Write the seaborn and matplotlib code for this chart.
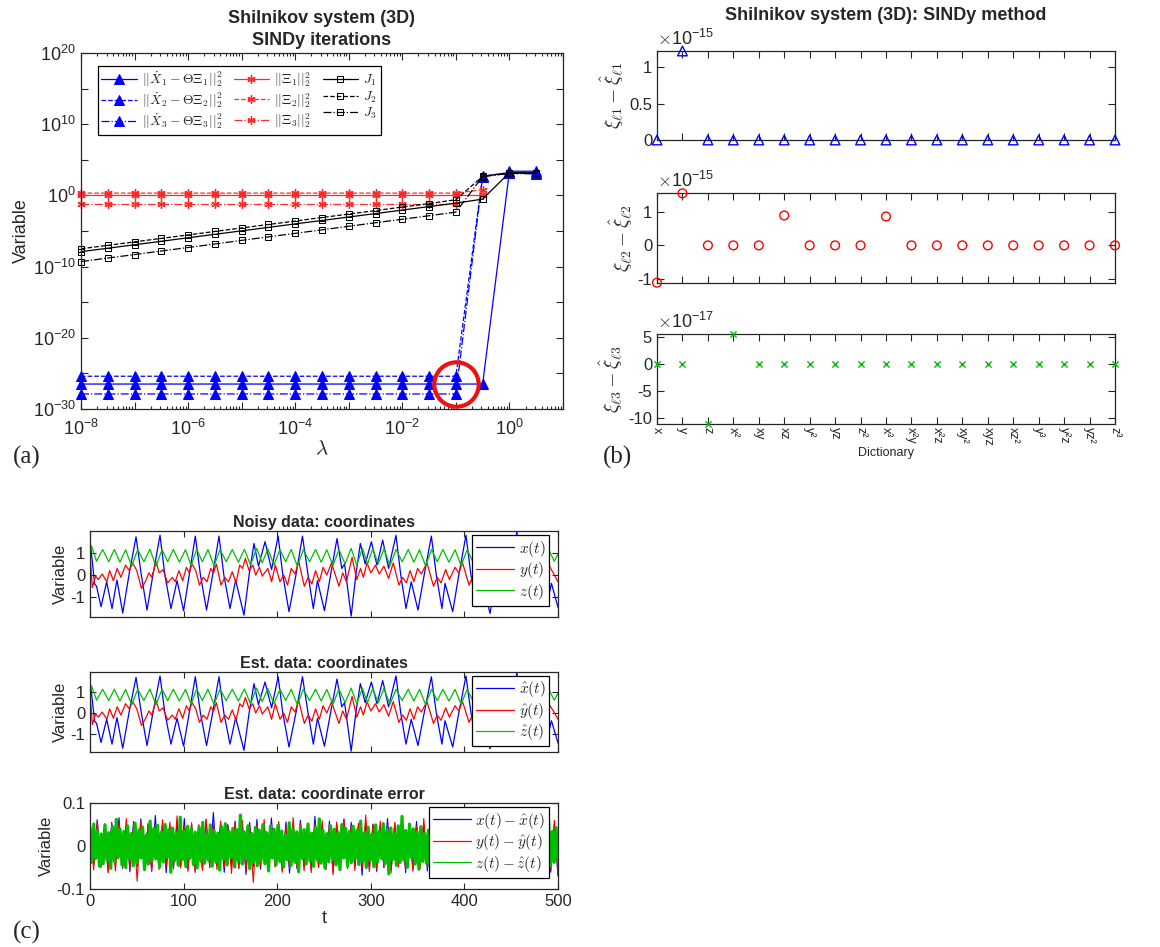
import numpy as np
import matplotlib
matplotlib.use("Agg")
import matplotlib.pyplot as plt
import seaborn as sns
from matplotlib.ticker import FixedLocator, FuncFormatter, NullLocator, LogLocator, NullFormatter

# ------------------------------------------------------------------ data
# (a) SINDy iterations versus lambda
lam = [1e-8, 3.16e-8, 1e-7, 3.16e-7, 1e-6, 3.16e-6, 1e-5, 3.16e-5, 1e-4,
       3.16e-4, 1e-3, 3.16e-3, 1e-2, 3.16e-2, 1e-1, 3.16e-1, 1e0, 3.16e0]
res1 = [3.2e-27, 3.2e-27, 3.2e-27, 3.2e-27, 3.2e-27, 3.2e-27, 3.2e-27, 3.2e-27, 3.2e-27,
        3.2e-27, 3.2e-27, 3.2e-27, 3.2e-27, 3.2e-27, 3.2e-27, 3.2e-27, 2.5e3, 2.5e3]
res2 = [4e-26, 4e-26, 4e-26, 4e-26, 4e-26, 4e-26, 4e-26, 4e-26, 4e-26,
        4e-26, 4e-26, 4e-26, 4e-26, 4e-26, 4e-26, 5e2, 1.6e3, 1.4e3]
res3 = [1.3e-28, 1.3e-28, 1.3e-28, 1.3e-28, 1.3e-28, 1.3e-28, 1.3e-28, 1.3e-28, 1.3e-28,
        1.3e-28, 1.3e-28, 1.3e-28, 1.3e-28, 1.3e-28, 1.3e-28, 4.5e2, 1.25e3, 1.1e3]
xi1 = [1.0, 1.0, 1.0, 1.0, 1.0, 1.0, 1.0, 1.0, 1.0, 1.0, 1.0, 1.0, 1.0, 1.0, 1.0, 1.0]
xi2 = [2.1, 2.1, 2.1, 2.1, 2.1, 2.1, 2.1, 2.1, 2.1, 2.1, 2.1, 2.1, 2.1, 2.1, 2.1, 6.3]
xi3 = [0.054, 0.054, 0.054, 0.054, 0.054, 0.054, 0.054, 0.054, 0.054, 0.054, 0.054,
       0.054, 0.054, 0.054, 0.054]
J1 = [1.26e-8, 3.8e-8, 1.17e-7, 3.6e-7, 1.12e-6, 3.4e-6, 1.05e-5, 3.2e-5, 1.0e-4,
      3.0e-4, 9.3e-4, 2.8e-3, 8.7e-3, 2.7e-2, 8.3e-2, 0.30, 1.6e3, 1.4e3]
J2 = [3.2e-8, 9.6e-8, 3.0e-7, 9.2e-7, 2.8e-6, 8.7e-6, 2.7e-5, 8.2e-5, 2.5e-4,
      7.8e-4, 2.4e-3, 7.4e-3, 2.3e-2, 7.0e-2, 0.25, 4.8e2, 1.6e3, 1.4e3]
J3 = [5.0e-10, 1.6e-9, 4.9e-9, 1.55e-8, 4.8e-8, 1.5e-7, 4.8e-7, 1.5e-6, 4.7e-6,
      1.45e-5, 4.6e-5, 1.45e-4, 4.5e-4, 1.4e-3, 4.5e-3, 4.5e2, 1.25e3, 1.1e3]

# (b) coefficient differences over the dictionary
terms = ['x', 'y', 'z', 'x²', 'xy', 'xz', 'y²', 'yz', 'z²', 'x³', 'x²y', 'x²z',
         'xy²', 'xyz', 'xz²', 'y³', 'y²z', 'yz²', 'z³']
dxi1 = [0, 1.22e-15, 0, 0, 0, 0, 0, 0, 0, 0, 0, 0, 0, 0, 0, 0, 0, 0, 0]
dxi2 = [-1.11e-15, 1.55e-15, 0, 0, 0, 0.89e-15, 0, 0, 0, 0.86e-15, 0, 0, 0, 0, 0, 0, 0, 0, 0]
dxi3 = [0, 0, -1.11e-16, 5.55e-17, 0, 0, 0, 0, 0, 0, 0, 0, 0, 0, 0, 0, 0, 0, 0]

# (c) time series (vertices)
x_t = [0, 2.5, 5, 7, 11.8, 17.8, 23.5, 28.8, 35, 42, 49.2, 54.5, 60.9, 67, 74.8, 80,
       86.5, 93, 100, 106, 112.5, 118, 124.5, 131, 137.8, 143, 149.6, 155.6, 164.5, 170,
       175.2, 180, 187, 194, 201, 206, 212.6, 220, 227, 233, 238.6, 243, 250.5, 257,
       263.9, 269, 272, 279, 284, 288.8, 294, 300.6, 306.6, 312.7, 319, 326.9, 332,
       337.6, 343.2, 350.4, 357, 364.7, 370, 376, 379.3, 387.5, 394, 401.7, 407, 413,
       419, 427.4, 434, 440, 446, 451, 456, 461, 466, 471, 477, 483, 488, 493, 500]
x_v = [1.55, 0.6, -0.4, -0.5, -1.42, -0.3, -1.5, -0.22, -1.7, 0.1, 1.72, 0.1, -1.57, -0.05,
       1.79, 0.0, -1.5, -0.25, -1.6, 0.0, 1.75, 0.0, -1.57, 0.0, 1.75, 0.0, -1.5, -0.22,
       -1.8, 0.0, 1.42, 0.4, 1.5, 0.25, 1.75, 0.0, -1.64, 0.0, 1.75, 0.0, -1.5, -0.25,
       -1.6, 0.0, 1.64, 0.3, 0.5, -1.84, 0.0, 1.42, 0.5, 1.5, 0.45, 1.57, 0.3, 1.79, 0.0,
       -1.5, -0.3, -1.57, 0.0, 1.75, 0.0, -1.5, -0.37, -1.64, 0.0, 1.79, 0.0, -1.42,
       -0.3, -1.72, 0.0, 1.5, 0.0, -0.6, 1.98, 0.0, -1.3, -0.4, -1.3, -0.4, -1.35, -0.37, -1.45]
y_t = [0, 2.5, 6, 9, 13, 18, 21, 25, 29, 33, 38, 42, 45.5, 50, 55, 59, 63, 66, 70.5, 74,
       78, 83, 88, 91, 95, 99, 103, 106, 109, 113, 117, 121, 125, 129, 132, 135, 140, 144,
       148, 152, 156, 160, 163, 166, 170, 174, 177, 181, 184, 190, 194, 198, 203, 207, 211,
       215, 219, 223, 229, 233, 237, 241, 245, 249, 253, 258, 266, 270, 274, 280, 285, 289,
       292, 296, 300, 305, 309, 314, 319, 324, 330, 334, 338, 342, 346, 350, 354, 360, 367,
       371, 375, 380, 384, 390, 394, 398, 405, 409, 413, 418, 422, 428, 432, 437, 443, 448,
       453, 459, 463, 467, 472, 476, 481, 485, 490, 495, 500]
y_v = [0.95, -0.55, -0.05, -0.2, 0.05, -0.3, 0.2, -0.25, 0.3, -0.1, 0.45, 0.2, 0.55, 0.2,
       -0.6, -0.3, 0.1, -0.1, 0.6, 0.1, 0.25, -0.35, -0.1, -0.3, 0.2, -0.25, 0.35, 0.1, 0.5,
       0.2, -0.45, -0.1, -0.3, 0.3, 0.1, 0.5, -0.45, -0.1, -0.3, 0.15, -0.35, 0.45, 0.3, 0.75,
       0.2, 0.45, 0.0, 0.35, -0.05, 0.3, -0.3, 0.45, -0.3, 0.0, -0.45, 0.3, 0.05, 0.6, -0.5,
       -0.1, -0.4, 0.2, -0.3, 0.35, 0.0, 0.55, -0.5, 0.1, -0.3, 0.8, -0.2, 0.3, -0.1, 0.55,
       0.1, 0.45, 0.05, 0.4, -0.15, 0.55, -0.45, -0.1, -0.35, 0.2, -0.3, 0.3, 0.05, 0.55,
       -0.5, -0.1, -0.35, 0.25, -0.2, 0.35, 0.1, 0.55, -0.45, -0.05, -0.35, 0.3, -0.2, 0.45,
       0.1, 0.6, -0.4, 0.1, 0.5, -0.4, 0.0, -0.3, 0.3, -0.25, 0.4, -0.1, 0.45, 0.1, -0.3]
z_t = [0, 1.5, 7, 13.5, 20, 26, 32, 38, 44.5, 51, 57.5, 64, 70.5, 77, 83, 89, 95.5, 102,
       108, 114, 120, 126, 132.5, 139, 145.5, 152, 158.5, 165, 171.5, 178, 184, 190, 196.5,
       203, 209, 215, 221.5, 228, 234.5, 241, 247, 253, 259.5, 266, 272.5, 279, 285, 291,
       296.5, 302, 308, 314, 320.5, 327, 333.5, 340, 346, 352, 358.5, 365, 371, 377, 383.5,
       390, 396.5, 403, 409, 415, 421.5, 428, 434, 440, 446, 452, 458.5, 465, 471, 477,
       483.5, 490, 496, 500]
z_v = [1.22, 1.32, 0.62, 1.15, 0.6, 1.15, 0.58, 1.14, 0.4, 1.15, 0.6, 1.16, 0.4, 1.15, 0.6,
       1.15, 0.58, 1.14, 0.42, 1.16, 0.6, 1.15, 0.42, 1.15, 0.6, 1.15, 0.58, 1.16, 0.45, 1.2,
       0.55, 1.18, 0.45, 1.15, 0.6, 1.15, 0.4, 1.15, 0.6, 1.15, 0.58, 1.14, 0.42, 1.15, 0.5,
       1.2, 0.45, 1.2, 0.5, 1.18, 0.5, 1.18, 0.42, 1.15, 0.6, 1.15, 0.58, 1.14, 0.42, 1.15,
       0.6, 1.15, 0.58, 1.14, 0.42, 1.15, 0.6, 1.15, 0.58, 1.14, 0.45, 1.18, 0.5, 1.15, 0.42,
       1.15, 0.6, 1.15, 0.6, 1.15, 0.62, 0.95]
# estimated series (visually identical to the noisy ones)
xh_v, yh_v, zh_v = x_v, y_v, z_v

# coordinate error samples
err_x = [.052, -.044, .061, -.05, .047, -.058, .055, -.046, .066, -.052,
         .049, -.06, .057, -.048, .063, -.054, .05, -.057, .071, -.049,
         .054, -.062, .048, -.051, .059, -.047, .064, -.055, .051, -.059,
         .046, -.053, .06, -.05, .078, -.045, .053, -.061, .05, -.048,
         .058, -.052, .047, -.066, .055, -.049, .062, -.054, .049, -.05,
         .065, -.047, .051, -.058, .056, -.063, .048, -.052, .06, -.046,
         .053, -.057, .069, -.05, .047, -.055, .058, -.061, .05, -.048,
         .062, -.052, .055, -.047, .049, -.068, .057, -.053, .051, -.059,
         .046, -.05, .064, -.056, .053, -.049, .06, -.062, .048, -.054,
         .057, -.046, .05, -.058, .073, -.051, .054, -.057, .049, -.063,
         .059, -.048, .052, -.055, .047, -.06, .063, -.05, .056, -.053,
         .05, -.066, .048, -.052, .061, -.047, .055, -.059, .052, -.05,
         .058, -.054, .049, -.057, .066, -.049, .053, -.061, .05, -.07]
err_y = [.048, -.056, .059, -.047, .052, -.063, .05, -.058, .055, -.049,
         .064, -.052, .047, -.082, .057, -.05, .053, -.06, .049, -.055,
         .061, -.048, .056, -.053, .07, -.051, .048, -.059, .054, -.062,
         .05, -.057, .063, -.049, .052, -.055, .058, -.05, .047, -.064,
         .055, -.052, .06, -.058, .049, -.085, .053, -.047, .062, -.056,
         .051, -.049, .057, -.061, .048, -.053, .066, -.05, .054, -.058,
         .049, -.062, .052, -.048, .059, -.055, .05, -.067, .056, -.051,
         .063, -.049, .048, -.057, .053, -.052, .072, -.06, .05, -.054,
         .058, -.05, .049, -.063, .055, -.048, .061, -.056, .052, -.059,
         .047, -.053, .064, -.05, .057, -.066, .051, -.049, .06, -.055,
         .054, -.061, .05, -.052, .065, -.048, .056, -.058, .049, -.062,
         .059, -.05, .053, -.057, .048, -.069, .055, -.051, .062, -.053,
         .05, -.059, .057, -.048, .052, -.064, .049, -.056, .06, -.068]
err_z = [.043, -.038, .051, -.029, .036, -.047, .028, -.041, .049, -.033,
         .031, -.052, .045, -.036, .062, -.027, .039, -.044, .034, -.05,
         .047, -.031, .029, -.046, .053, -.039, .037, -.028, .044, -.055,
         .026, -.042, .058, -.035, .041, -.03, .048, -.049, .033, -.037,
         .05, -.026, .038, -.061, .042, -.034, .03, -.045, .067, -.032,
         .035, -.048, .046, -.029, .04, -.043, .032, -.051, .044, -.036,
         .055, -.04, .027, -.033, .049, -.047, .036, -.038, .03, -.056,
         .045, -.031, .052, -.044, .034, -.027, .041, -.049, .038, -.035,
         .072, -.042, .033, -.03, .047, -.053, .029, -.039, .043, -.046,
         .037, -.034, .05, -.041, .031, -.058, .046, -.028, .039, -.044,
         .048, -.036, .035, -.049, .027, -.032, .054, -.045, .04, -.038,
         .033, -.06, .045, -.029, .038, -.042, .051, -.035, .03, -.047,
         .043, -.033, .063, -.04, .036, -.051, .029, -.037, .047, -.031,
         .039, -.044, .032, -.055, .05, -.028, .041, -.046, .034, -.039,
         .046, -.03, .037, -.043, .058, -.036, .031, -.05, .044, -.034,
         .028, -.048, .049, -.037, .035, -.029, .052, -.041, .038, -.065,
         .042, -.032, .03, -.045, .047, -.038, .069, -.033, .036, -.049,
         .051, -.027, .04, -.042, .033, -.054, .045, -.036, .029, -.04,
         .037, -.047, .055, -.031, .043, -.039, .032, -.044, .048, -.035,
         .034, -.052, .041, -.03, .05, -.037, .027, -.046, .044, -.041,
         .039, -.033, .046, -.05, .031, -.038, .053, -.029, .042, -.045,
         .036, -.04, .029, -.057, .048, -.034, .038, -.043, .061, -.036,
         .044, -.031, .035, -.048, .03, -.042, .05, -.037, .041, -.053,
         .033, -.046, .047, -.028, .037, -.039, .045, -.05, .032, -.035,
         .049, -.041, .04, -.032, .056, -.047, .034, -.038, .043, -.036]

# ------------------------------------------------------------------ style
sns.set_style("ticks")
plt.rcParams["font.family"] = ["Liberation Sans", "DejaVu Sans"]
plt.rcParams["mathtext.fontset"] = "cm"
plt.rcParams["axes.unicode_minus"] = False
plt.rcParams["xtick.direction"] = "in"
plt.rcParams["ytick.direction"] = "in"
plt.rcParams["axes.edgecolor"] = "#262626"
plt.rcParams["axes.linewidth"] = 0.9
plt.rcParams["xtick.color"] = "#262626"
plt.rcParams["ytick.color"] = "#262626"
plt.rcParams["axes.labelcolor"] = "#262626"

W, H = 1160, 947
fig = plt.figure(figsize=(W / 100, H / 100), dpi=100)


def ax_px(l, t, r, b):
    return fig.add_axes([l / W, 1 - b / H, (r - l) / W, (b - t) / H])


def box_ticks(ax, length=5):
    ax.tick_params(which="both", top=True, right=True, direction="in",
                   labelsize=12, width=0.8)
    ax.tick_params(which="major", length=length)
    ax.tick_params(which="minor", length=length * 0.5)
    for s in ax.spines.values():
        s.set_visible(True)
        s.set_linewidth(0.9)


def fixed_fmt(mapping):
    return FuncFormatter(lambda v, p: mapping.get(round(v, 3), ""))


BLUE, RED, BLACK, GREEN = "#0000ff", "#ff2a2a", "black", "#00c000"

# ------------------------------------------------------------------ (a)
axA = ax_px(81, 53, 563, 409)
axA.set_xscale("log")
axA.set_yscale("log")
series_a = [
    (res1, BLUE, "-", "^", dict(mfc=BLUE, ms=6.5), r"$||\dot{X}_1-\Theta\Xi_1||_2^2$"),
    (res2, BLUE, "--", "^", dict(mfc=BLUE, ms=6.5), r"$||\dot{X}_2-\Theta\Xi_2||_2^2$"),
    (res3, BLUE, "-.", "^", dict(mfc=BLUE, ms=6.5), r"$||\dot{X}_3-\Theta\Xi_3||_2^2$"),
    (xi1, RED, "-", (6, 2, 0), dict(ms=6, mew=1.0), r"$||\Xi_1||_2^2$"),
    (xi2, RED, "--", (6, 2, 0), dict(ms=6, mew=1.0), r"$||\Xi_2||_2^2$"),
    (xi3, RED, "-.", (6, 2, 0), dict(ms=6, mew=1.0), r"$||\Xi_3||_2^2$"),
    (J1, BLACK, "-", "s", dict(mfc="none", ms=4.5), r"$J_1$"),
    (J2, BLACK, "--", "s", dict(mfc="none", ms=4.5), r"$J_2$"),
    (J3, BLACK, "-.", "s", dict(mfc="none", ms=4.5), r"$J_3$"),
]
handles = []
for vals, col, ls, mk, mkw, lab in series_a:
    n0 = len(axA.get_lines())
    sns.lineplot(x=np.array(lam[:len(vals)]), y=np.array(vals), ax=axA, color=col,
                 linestyle=ls, marker=mk, mec=col, lw=0.9, label=lab, clip_on=False,
                 **mkw)
    handles.append(axA.get_lines()[n0])
if axA.get_legend() is not None:
    axA.get_legend().remove()

axA.set_xlim(1e-8, 10)
axA.set_ylim(1e-30, 1e20)
axA.xaxis.set_major_locator(FixedLocator([10.0 ** k for k in range(-8, 2)]))
axA.xaxis.set_major_formatter(FuncFormatter(
    lambda v, p: (r"$\mathregular{10^{%d}}$" % round(np.log10(v)))
    if round(np.log10(v)) % 2 == 0 else ""))
axA.xaxis.set_minor_locator(LogLocator(base=10, subs=np.arange(2, 10), numticks=100))
axA.xaxis.set_minor_formatter(NullFormatter())
axA.yaxis.set_major_locator(FixedLocator([10.0 ** k for k in range(-30, 21, 5)]))
axA.yaxis.set_major_formatter(FuncFormatter(
    lambda v, p: (r"$\mathregular{10^{%d}}$" % round(np.log10(v)))
    if round(np.log10(v)) % 10 == 0 else ""))
axA.yaxis.set_minor_locator(NullLocator())
box_ticks(axA)
axA.tick_params(which="major", labelsize=13)
axA.tick_params(axis="x", which="major", pad=7)
axA.set_xlabel(r"$\lambda$", fontsize=15, labelpad=0)
axA.set_ylabel("Variable", fontsize=13, labelpad=2)
axA.set_title("Shilnikov system (3D)\nSINDy iterations", fontweight="bold",
              fontsize=13, linespacing=1.35, pad=6)
axA.legend(handles=handles, labels=[h.get_label() for h in handles], ncol=3,
           loc="upper left", bbox_to_anchor=(0.035, 0.963), borderaxespad=0,
           fontsize=9.8, fancybox=False, edgecolor="black", framealpha=1,
           handlelength=2.6, columnspacing=0.8, handletextpad=0.4, labelspacing=0.1,
           borderpad=0.25)
axA.get_legend().get_frame().set_linewidth(0.9)

# highlight circle around the first jump (annotation in data units)
circ_x, circ_y = 1e-1, 3e-27
axA.plot([circ_x], [circ_y], marker="o", ms=32, mfc="none", mec="#ee1111", mew=3,
         ls="none", zorder=6)

# ------------------------------------------------------------------ (b)
idx = np.arange(len(terms))
b_specs = [
    (51, 140, dxi1, "^", BLUE, 48, (0, 1.22), [0, 0.5, 1], {0: "0", 0.5: "0.5", 1: "1"},
     -15, r"$\xi_{\ell 1}-\hat{\xi}_{\ell 1}$"),
    (193, 283, dxi2, "o", "#ff0000", 40, (-1.12, 1.56), [-1, 0, 1],
     {-1: "-1", 0: "0", 1: "1"}, -15, r"$\xi_{\ell 2}-\hat{\xi}_{\ell 2}$"),
    (334, 424, dxi3, "x", "#00c000", 20, (-11.1, 5.55), [-10, -5, 0, 5],
     {-10: "-10", -5: "-5", 0: "0", 5: "5"}, -17, r"$\xi_{\ell 3}-\hat{\xi}_{\ell 3}$"),
]
b_axes = []
for top, bot, vals, mk, col, sz, ylim, yt, ylabs, expo, ylab in b_specs:
    ax = ax_px(657, top, 1115, bot)
    scale = 10.0 ** expo
    sns.scatterplot(x=idx, y=np.array(vals), ax=ax, marker=mk, s=sz, legend=False)
    coll = ax.collections[-1]
    if mk == "x":
        coll.set_facecolor(col)
    else:
        coll.set_facecolor("none")
    coll.set_edgecolor(col)
    coll.set_linewidth(1.0)
    coll.set_clip_on(False)
    coll.set_zorder(5)
    ax.set_xlim(0, len(terms) - 1)
    ax.set_ylim(ylim[0] * scale, ylim[1] * scale)
    ax.set_yticks([v * scale for v in yt])
    ax.yaxis.set_major_formatter(FuncFormatter(
        lambda v, p, s=scale, m=ylabs: m.get(round(v / s, 3), "")))
    ax.set_xticks(idx)
    ax.set_xticklabels([])
    box_ticks(ax)
    ax.set_ylabel(ylab, fontsize=14, labelpad=2)
    ax.text(0.0, 1.02, r"$\times\mathregular{10^{%d}}$" % expo, transform=ax.transAxes,
            fontsize=13, ha="left", va="bottom")
    b_axes.append(ax)
b_axes[2].set_xticklabels(terms, rotation=-90, fontsize=9, ha="center", va="top")
b_axes[2].tick_params(axis="x", pad=2)
b_axes[2].set_xlabel("Dictionary", fontsize=9, labelpad=1)
fig.text(886 / W, 1 - 15 / H, "Shilnikov system (3D): SINDy method", fontweight="bold",
         fontsize=13, ha="center", va="center")

# ------------------------------------------------------------------ (c)
c_specs = [
    (531, 617, "Noisy data: coordinates", [x_v, y_v, z_v],
     [r"$x(t)$", r"$y(t)$", r"$z(t)$"]),
    (672, 752, "Est. data: coordinates", [xh_v, yh_v, zh_v],
     [r"$\hat{x}(t)$", r"$\hat{y}(t)$", r"$\hat{z}(t)$"]),
]
ts_t = [x_t, y_t, z_t]
cols = [BLUE, "#ff0000", "#00c000"]
leg_kw = dict(loc="upper right", bbox_to_anchor=(0.981, 0.955), borderaxespad=0,
              fontsize=11, fancybox=False, edgecolor="black", framealpha=1,
              handlelength=2.5, handletextpad=0.3, labelspacing=0.1, borderpad=0.25)
for top, bot, title, vals, labs in c_specs:
    ax = ax_px(90, top, 558, bot)
    hs = []
    for tt, vv, cc, lb in zip(ts_t, vals, cols, labs):
        n0 = len(ax.get_lines())
        sns.lineplot(x=np.array(tt), y=np.array(vv), ax=ax, color=cc, lw=0.9, label=lb)
        hs.append(ax.get_lines()[n0])
    ax.set_xlim(0, 500)
    ax.set_ylim(-1.88, 1.98)
    ax.set_yticks([-1, 0, 1])
    ax.yaxis.set_major_formatter(fixed_fmt({-1: "-1", 0: "0", 1: "1"}))
    ax.set_xticks([0, 100, 200, 300, 400, 500])
    ax.set_xticklabels([])
    box_ticks(ax, length=4)
    ax.set_ylabel("Variable", fontsize=12, labelpad=2)
    ax.set_xlabel("")
    ax.set_title(title, fontweight="bold", fontsize=11.5, pad=3)
    ax.legend(handles=hs, labels=labs, **leg_kw)
    ax.get_legend().get_frame().set_linewidth(0.9)

axE = ax_px(90, 803, 558, 889)
hs = []
for ev, cc, lb, lw in zip([err_x, err_y, err_z], cols,
                          [r"$x(t)-\hat{x}(t)$", r"$y(t)-\hat{y}(t)$", r"$z(t)-\hat{z}(t)$"],
                          [0.8, 0.8, 2.3]):
    n0 = len(axE.get_lines())
    sns.lineplot(x=np.linspace(0, 500, len(ev)), y=np.array(ev), ax=axE, color=cc,
                 lw=lw, label=lb)
    hs.append(axE.get_lines()[n0])
axE.set_xlim(0, 500)
axE.set_ylim(-0.1, 0.1)
axE.set_yticks([-0.1, 0, 0.1])
axE.yaxis.set_major_formatter(fixed_fmt({-0.1: "-0.1", 0: "0", 0.1: "0.1"}))
axE.set_xticks([0, 100, 200, 300, 400, 500])
box_ticks(axE, length=4)
axE.set_ylabel("Variable", fontsize=12, labelpad=2)
axE.set_xlabel("t", fontsize=13, labelpad=1)
axE.set_title("Est. data: coordinate error", fontweight="bold", fontsize=11.5, pad=3)
axE.legend(handles=hs, labels=[h.get_label() for h in hs], **leg_kw)
for h in axE.get_legend().get_lines():
    h.set_linewidth(0.9)
axE.get_legend().get_frame().set_linewidth(0.9)

# ------------------------------------------------------------------ panel labels
for txt, x, y in [("(a)", 27, 457), ("(b)", 618, 457), ("(c)", 27, 932)]:
    fig.text(x / W, 1 - y / H, txt, fontsize=18, family="Liberation Serif",
             ha="center", va="center")

fig.savefig("out.png", dpi=100)
